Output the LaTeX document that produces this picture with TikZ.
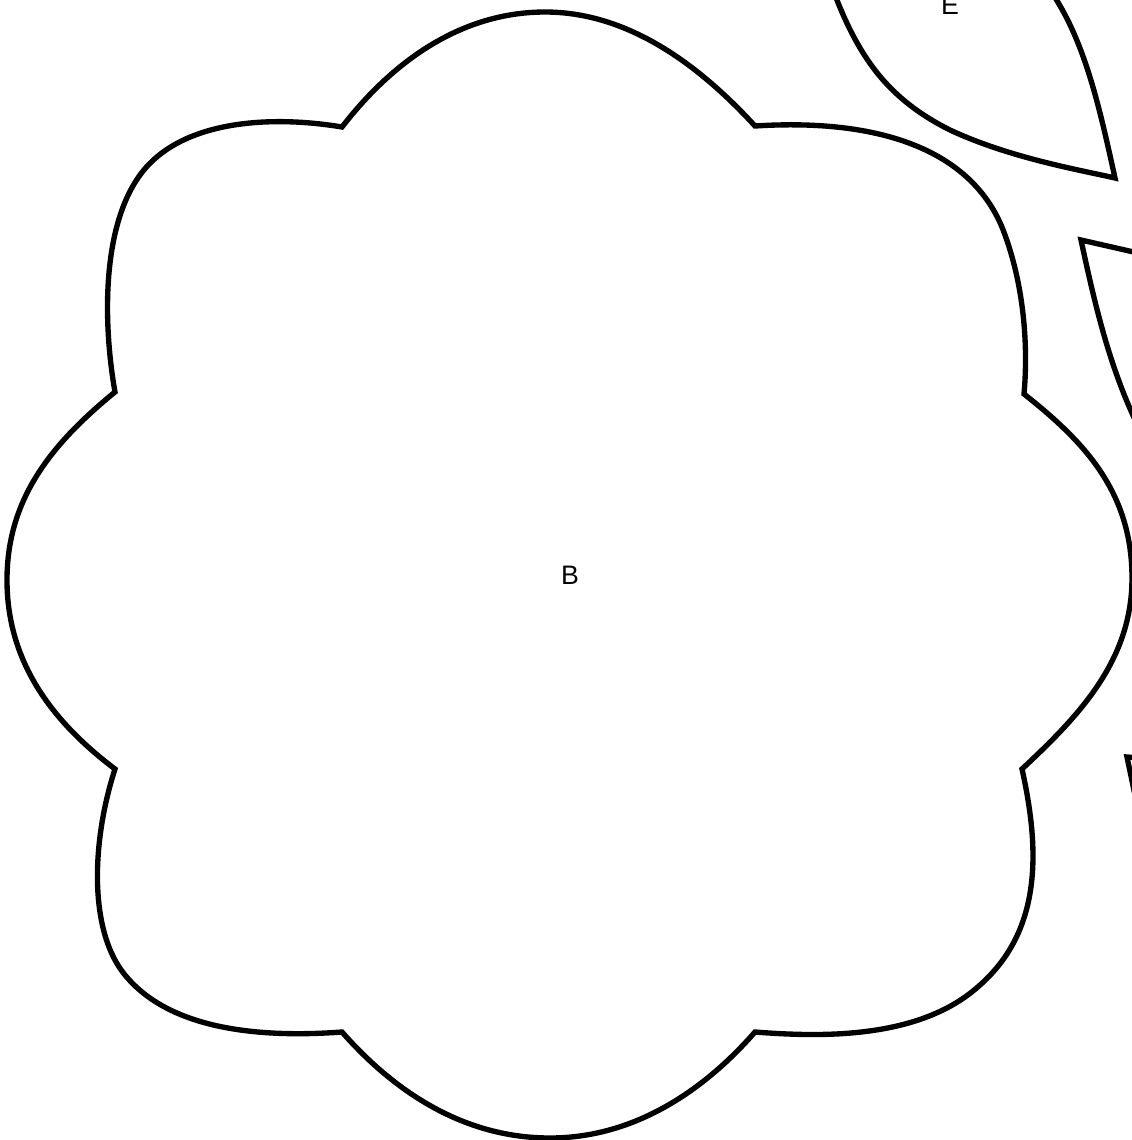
\documentclass[tikz,border=0pt]{standalone}
\usepackage{fontspec}
\setmainfont{Liberation Sans}
\usepackage{tikz}
\usetikzlibrary{positioning}
\definecolor{ink}{HTML}{000000}

\tikzset{
  outline/.style={draw=ink,line width=3.8pt,line join=miter},
  tag/.style={text=ink,font=\fontsize{19}{22}\selectfont,inner sep=0pt}
}

\begin{document}
\begin{tikzpicture}[x=0.025cm,y=-0.025cm]
        \useasboundingbox (0,0) rectangle (1132,1140);
        \clip (0,0) rectangle (1132,1140);
        % big cloud
        \draw[outline] (342,127) .. controls (400,52) and (470,12) .. (545,12)
          .. controls (620,12) and (690,55) .. (755,126)
          .. controls (880,118) and (975,150) .. (1005,235)
          .. controls (1025,290) and (1028,350) .. (1024,394)
          .. controls (1082,440) and (1132,490) .. (1132,578)
          .. controls (1132,660) and (1080,715) .. (1022,769)
          .. controls (1040,850) and (1042,930) .. (980,985)
          .. controls (920,1040) and (820,1037) .. (755,1032)
          .. controls (700,1095) and (630,1138) .. (550,1138)
          .. controls (470,1138) and (400,1098) .. (342,1032)
          .. controls (260,1038) and (170,1030) .. (125,975)
          .. controls (88,930) and (92,840) .. (115,769)
          .. controls (50,720) and (7,660) .. (7,580)
          .. controls (7,500) and (50,445) .. (115,392)
          .. controls (104,330) and (100,230) .. (140,175)
          .. controls (180,120) and (270,115) .. cycle;
        \node[tag] (b) at (570,575) {B};
        % leaf at the top
        \draw[outline] (1115,178) .. controls (1080,170) and (1010,158) .. (950,130)
          .. controls (890,100) and (860,60) .. (835,-5)
          .. controls (820,-60) and (880,-120) .. (940,-150)
          .. controls (1000,-100) and (1030,-40) .. (1050,-10)
          .. controls (1085,40) and (1100,110) .. cycle;
        \node[tag] (e) at (950,5) {E};
        % leaf on the right
        \draw[outline] (1160,258) -- (1081,240)
          .. controls (1095,305) and (1110,370) .. (1140,430);
        % tip lower right
        \draw[outline] (1140,758) -- (1127,757) -- (1136,800);
\end{tikzpicture}
\end{document}
